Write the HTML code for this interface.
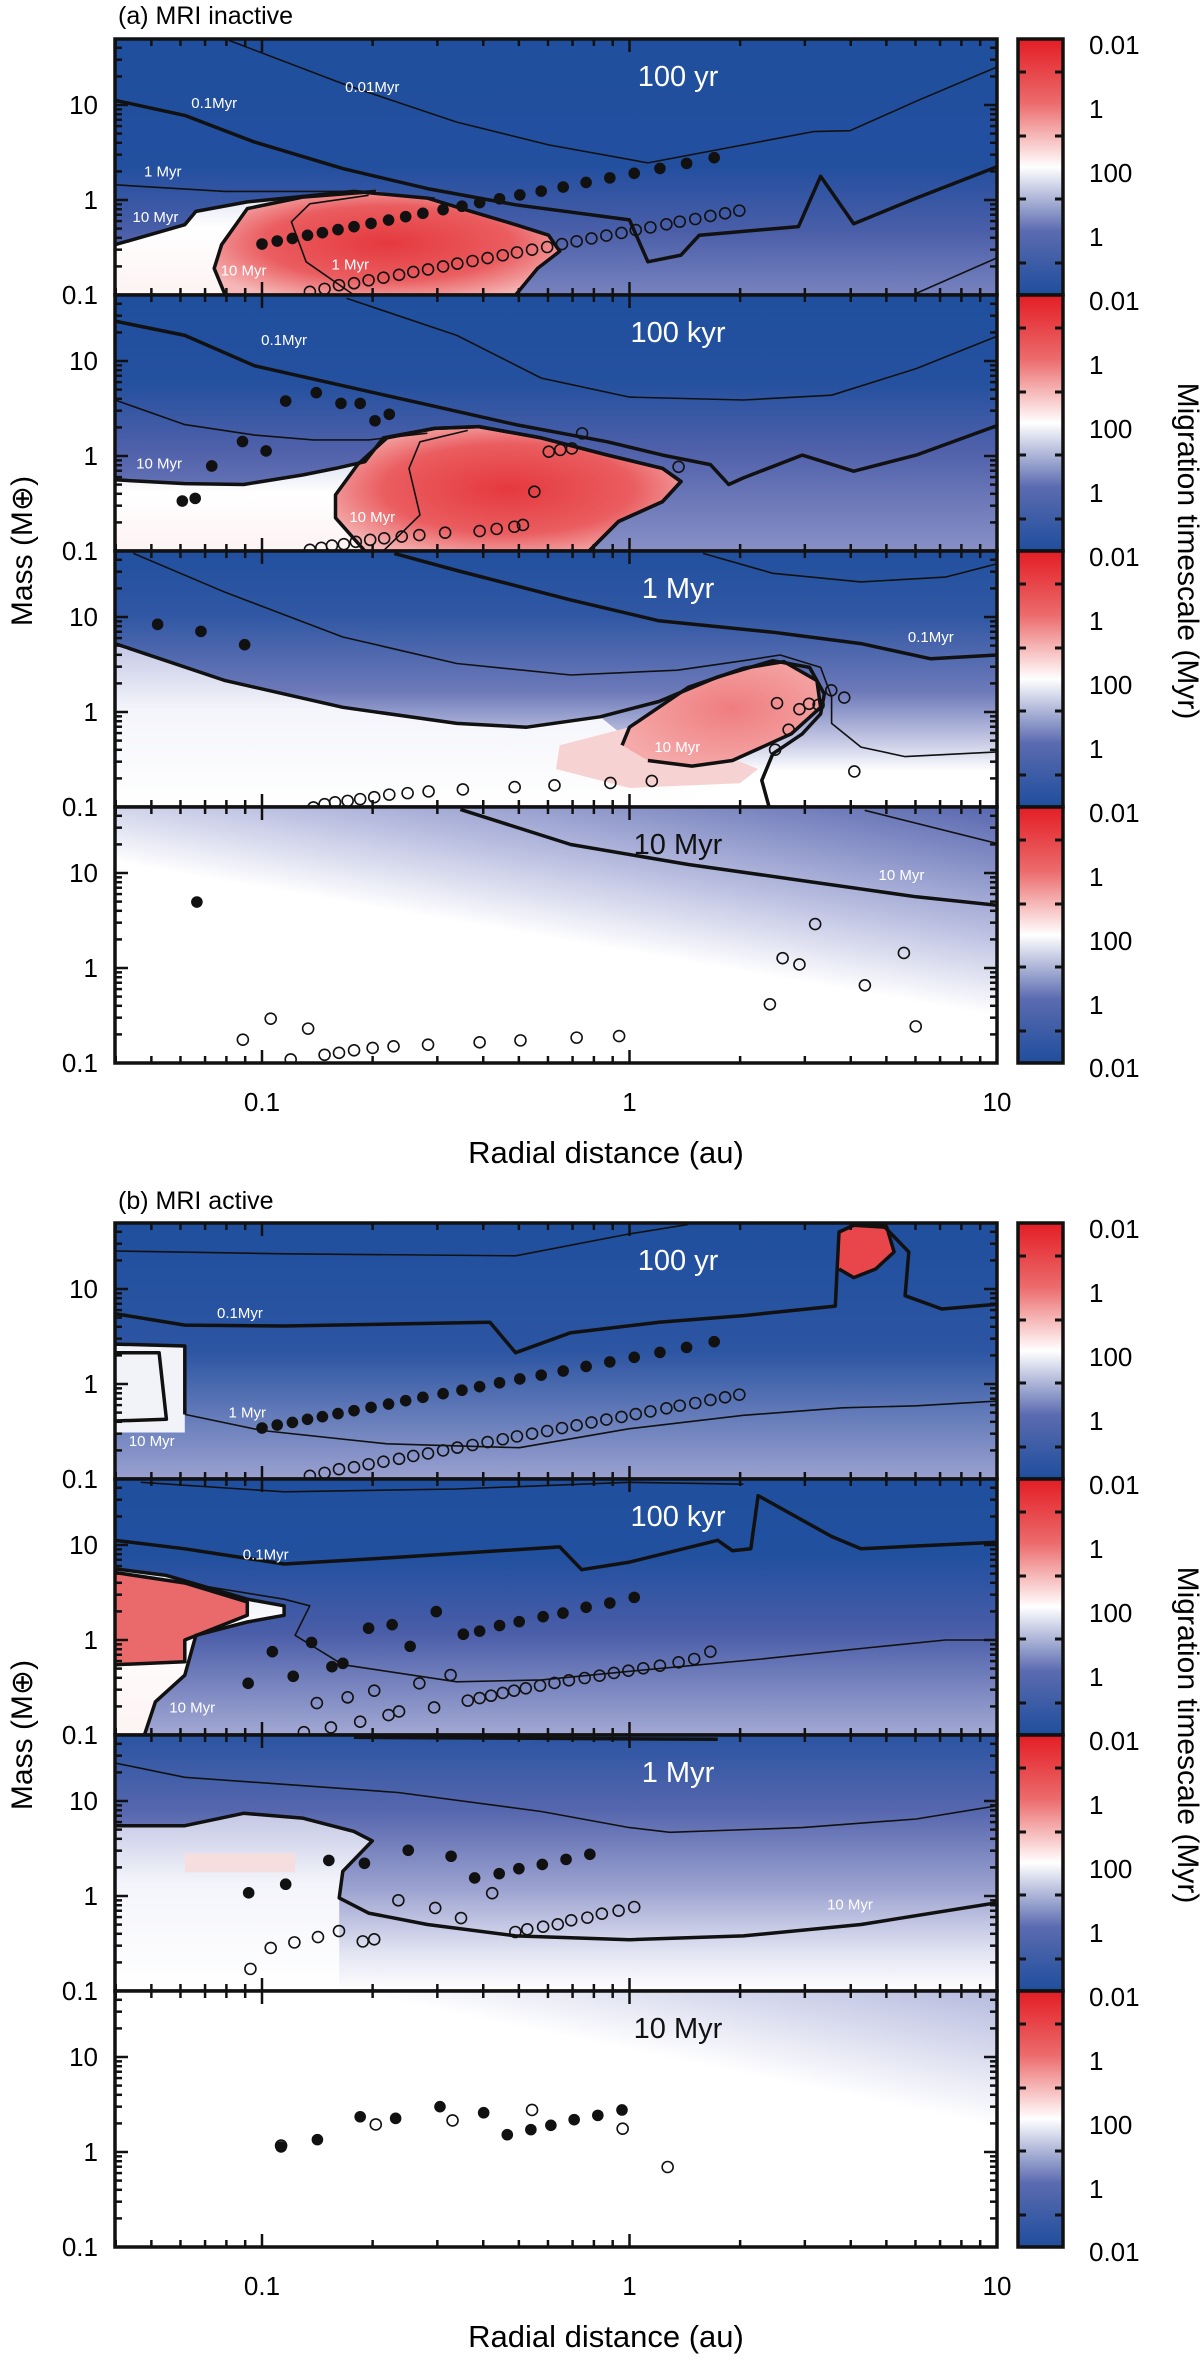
<!DOCTYPE html>
<html><head><meta charset="utf-8">
<style>
html,body{margin:0;padding:0;background:#fff;}
svg{display:block;font-family:"Liberation Sans","DejaVu Sans",sans-serif;}
</style></head>
<body>
<svg id="chart" width="1200" height="2363" viewBox="0 0 1200 2363" xmlns="http://www.w3.org/2000/svg">
<defs>
<linearGradient id="gA1" x1="0" y1="0" x2="0" y2="1"><stop offset="0" stop-color="#1f4f9e"/><stop offset="0.5" stop-color="#234f9f"/><stop offset="0.75" stop-color="#4a5ea8"/><stop offset="1" stop-color="#7883bf"/></linearGradient>
<linearGradient id="gA2" x1="0" y1="0" x2="0" y2="1"><stop offset="0" stop-color="#1f4f9e"/><stop offset="0.35" stop-color="#25519f"/><stop offset="0.6" stop-color="#4f60aa"/><stop offset="1" stop-color="#8890c6"/></linearGradient>
<linearGradient id="gA3" x1="0" y1="0" x2="0" y2="1"><stop offset="0" stop-color="#21509f"/><stop offset="0.25" stop-color="#3057a3"/><stop offset="0.55" stop-color="#6d79b9"/><stop offset="0.75" stop-color="#c9cce6"/><stop offset="0.86" stop-color="#ffffff"/><stop offset="1" stop-color="#ffffff"/></linearGradient>
<linearGradient id="gA4" x1="1" y1="0" x2="0.55" y2="0.75"><stop offset="0" stop-color="#5867af"/><stop offset="0.45" stop-color="#b3b8dd"/><stop offset="0.8" stop-color="#ffffff"/><stop offset="1" stop-color="#ffffff"/></linearGradient>
<linearGradient id="gB1" x1="0" y1="0" x2="0" y2="1"><stop offset="0" stop-color="#1f4f9e"/><stop offset="0.5" stop-color="#2c55a2"/><stop offset="1" stop-color="#9ba1d0"/></linearGradient>
<linearGradient id="gB2" x1="0" y1="0" x2="0" y2="1"><stop offset="0" stop-color="#1f4f9e"/><stop offset="0.3" stop-color="#21509f"/><stop offset="0.6" stop-color="#4a5da8"/><stop offset="1" stop-color="#a3a9d4"/></linearGradient>
<linearGradient id="gB3" x1="0" y1="0" x2="0" y2="1"><stop offset="0" stop-color="#2a54a2"/><stop offset="0.3" stop-color="#5767ae"/><stop offset="0.6" stop-color="#9ca2d0"/><stop offset="0.85" stop-color="#e2e4f2"/><stop offset="1" stop-color="#ffffff"/></linearGradient>
<linearGradient id="gB4" x1="1" y1="0" x2="0.75" y2="0.35"><stop offset="0" stop-color="#b5bade"/><stop offset="1" stop-color="#ffffff"/></linearGradient>
<linearGradient id="gFadeWhite" x1="0" y1="0" x2="0" y2="1"><stop offset="0" stop-color="#c3c7e4"/><stop offset="0.4" stop-color="#f4f5fb"/><stop offset="1" stop-color="#ffffff"/></linearGradient>
<linearGradient id="gWhiteReg" x1="0" y1="0" x2="0" y2="1"><stop offset="0" stop-color="#dfe2f1"/><stop offset="0.35" stop-color="#ffffff"/><stop offset="1" stop-color="#fdf3f3"/></linearGradient>
<radialGradient id="gRed" cx="0.5" cy="0.5" r="0.6"><stop offset="0" stop-color="#e5393e"/><stop offset="0.6" stop-color="#ea5d60"/><stop offset="1" stop-color="#f5b7b7"/></radialGradient>
<radialGradient id="gRedLight" cx="0.55" cy="0.45" r="0.6"><stop offset="0" stop-color="#ef7d7f"/><stop offset="1" stop-color="#f5a9a9"/></radialGradient>
<linearGradient id="gCbar" x1="0" y1="0" x2="0" y2="1"><stop offset="0" stop-color="#e31d25"/><stop offset="0.25" stop-color="#ec6b6c"/><stop offset="0.5" stop-color="#ffffff"/><stop offset="0.75" stop-color="#5b6bb0"/><stop offset="1" stop-color="#1f4e9c"/></linearGradient>
</defs>
<text x="118" y="24" font-size="25">(a) MRI inactive</text>
<text x="118" y="1209" font-size="25">(b) MRI active</text>
<text x="606" y="1163" font-size="31" text-anchor="middle">Radial distance (au)</text>
<text x="606" y="2347" font-size="31" text-anchor="middle">Radial distance (au)</text>
<text transform="translate(32,551) rotate(-90)" font-size="30" text-anchor="middle">Mass (M⊕)</text>
<text transform="translate(32,1735) rotate(-90)" font-size="30" text-anchor="middle">Mass (M⊕)</text>
<text transform="translate(1178,551) rotate(90)" font-size="30" text-anchor="middle">Migration timescale (Myr)</text>
<text transform="translate(1178,1735) rotate(90)" font-size="30" text-anchor="middle">Migration timescale (Myr)</text>
</svg>
<script>
// ---------- tick data ----------
const xTickValues=[0.1,1,10];
const xTickLabels=['0.1','1','10'];
const yTickValues=[0.1,1,10];
const yTickLabels=['0.1','1','10'];
const colorbarLabels=['0.01','1','100','1'];

// ---------- planet data (r in au, mass in Earth masses) ----------
const a1FilledR=[0.100,0.110,0.121,0.133,0.146,0.161,0.178,0.198,0.221,0.246,0.274,0.311,0.350,0.391,0.443,0.503,0.575,0.660,0.762,0.884,1.03,1.21,1.43,1.70];
const a1FilledM=[0.344,0.370,0.394,0.425,0.453,0.488,0.524,0.567,0.615,0.668,0.724,0.791,0.86,0.938,1.03,1.13,1.24,1.37,1.53,1.71,1.91,2.15,2.43,2.79];
const a1OpenR=[0.135,0.148,0.162,0.178,0.195,0.214,0.236,0.258,0.283,0.311,0.340,0.374,0.411,0.452,0.494,0.543,0.597,0.655,0.718,0.788,0.865,0.951,1.04,1.14,1.26,1.37,1.51,1.66,1.82,1.99];
const a1OpenM=[0.108,0.116,0.127,0.133,0.143,0.152,0.163,0.175,0.186,0.200,0.214,0.228,0.245,0.262,0.281,0.300,0.320,0.344,0.367,0.394,0.422,0.450,0.483,0.515,0.555,0.592,0.631,0.679,0.724,0.773];

const a2FilledR=[0.0607,0.0658,0.073,0.0885,0.1026,0.116,0.1405,0.164,0.185,0.203,0.222];
const a2FilledM=[0.336,0.358,0.785,1.42,1.13,3.79,4.64,3.58,3.58,2.35,2.75];
const a2OpenR=[0.135,0.145,0.155,0.167,0.180,0.197,0.215,0.240,0.268,0.315,0.391,0.435,0.486,0.513,0.551,0.603,0.648,0.697,0.743,1.36];
const a2OpenM=[0.103,0.108,0.114,0.118,0.125,0.131,0.136,0.142,0.147,0.156,0.162,0.171,0.180,0.188,0.421,1.11,1.16,1.20,1.73,0.77];

const a3FilledR=[0.052,0.0682,0.0897];
const a3FilledM=[8.37,7.06,5.11];
const a3OpenR=[0.138,0.148,0.158,0.171,0.185,0.202,0.222,0.249,0.284,0.352,0.487,0.625,0.887,1.15,2.49,2.71,2.90,3.08,3.27,3.54,3.84,4.09,2.52];
const a3OpenM=[0.099,0.107,0.112,0.116,0.121,0.127,0.135,0.140,0.146,0.153,0.162,0.169,0.179,0.188,0.401,0.652,1.07,1.22,1.19,1.69,1.42,0.237,1.24];

const a4FilledR=[0.0665];
const a4FilledM=[4.95];
const a4OpenR=[0.0887,0.1056,0.1197,0.1335,0.148,0.162,0.178,0.200,0.228,0.283,0.391,0.505,0.718,0.937,2.41,2.61,2.90,3.20,4.37,5.58,6.01];
const a4OpenM=[0.176,0.293,0.109,0.230,0.122,0.128,0.136,0.144,0.150,0.156,0.165,0.173,0.185,0.192,0.415,1.27,1.09,2.90,0.658,1.44,0.243];

const b1FilledR=[0.100,0.110,0.121,0.133,0.146,0.161,0.178,0.198,0.221,0.246,0.274,0.311,0.350,0.391,0.443,0.503,0.575,0.660,0.762,0.884,1.03,1.21,1.43,1.70];
const b1FilledM=[0.344,0.370,0.394,0.425,0.453,0.488,0.524,0.567,0.615,0.668,0.724,0.791,0.86,0.938,1.03,1.13,1.24,1.37,1.53,1.71,1.91,2.15,2.43,2.79];
const b1OpenR=[0.135,0.148,0.162,0.178,0.195,0.214,0.236,0.258,0.283,0.311,0.340,0.374,0.411,0.452,0.494,0.543,0.597,0.655,0.718,0.788,0.865,0.951,1.04,1.14,1.26,1.37,1.51,1.66,1.82,1.99];
const b1OpenM=[0.108,0.116,0.127,0.133,0.143,0.152,0.163,0.175,0.186,0.200,0.214,0.228,0.245,0.262,0.281,0.300,0.320,0.344,0.367,0.394,0.422,0.450,0.483,0.515,0.555,0.592,0.631,0.679,0.724,0.773];

const b2FilledR=[0.0917,0.1067,0.1216,0.1364,0.155,0.166,0.195,0.226,0.253,0.298,0.353,0.391,0.443,0.501,0.582,0.659,0.762,0.884,1.03];
const b2FilledM=[0.350,0.754,0.415,0.944,0.524,0.568,1.33,1.45,0.857,1.99,1.15,1.24,1.42,1.56,1.76,1.92,2.21,2.45,2.81];
const b2OpenR=[0.130,0.154,0.185,0.221,0.236,0.141,0.171,0.202,0.268,0.294,0.326,0.363,0.391,0.420,0.452,0.485,0.522,0.571,0.625,0.684,0.755,0.829,0.907,0.993,1.09,1.21,1.36,1.50,1.66];
const b2OpenM=[0.107,0.120,0.138,0.162,0.177,0.217,0.249,0.293,0.350,0.195,0.428,0.230,0.245,0.259,0.277,0.293,0.310,0.331,0.353,0.376,0.398,0.421,0.450,0.475,0.504,0.537,0.582,0.631,0.754];

const b3FilledR=[0.092,0.116,0.152,0.190,0.250,0.327,0.379,0.442,0.500,0.579,0.672,0.780];
const b3FilledM=[1.08,1.33,2.37,2.21,3.03,2.62,1.55,1.72,1.94,2.15,2.43,2.75];
const b3OpenR=[0.093,0.1056,0.1225,0.142,0.162,0.188,0.202,0.235,0.296,0.348,0.423,0.489,0.527,0.582,0.638,0.694,0.768,0.841,0.934,1.03];
const b3OpenM=[0.171,0.284,0.325,0.370,0.428,0.333,0.350,0.900,0.748,0.586,1.07,0.418,0.446,0.475,0.504,0.555,0.592,0.652,0.701,0.766];

const b4FilledR=[0.1127,0.1415,0.185,0.231,0.305,0.401,0.465,0.539,0.611,0.707,0.820,0.954];
const b4FilledM=[1.13,1.35,2.35,2.26,3.00,2.59,1.52,1.72,1.91,2.19,2.43,2.77];
const b4OpenR=[0.1127,0.204,0.330,0.543,0.958,1.27];
const b4OpenM=[1.17,1.95,2.15,2.77,1.76,0.695];

// ---------- contour data ([log10 r, log10 M]) ----------
const a1C001=[[-1.09,1.68],[-0.77,1.21],[-0.47,0.82],[-0.22,0.58],[0.05,0.39],[0.31,0.58],[0.50,0.72],[0.60,0.73],[0.78,1.04],[1.0,1.40]];
const a1C01=[[-1.40,1.05],[-1.21,0.89],[-1.02,0.61],[-0.78,0.33],[-0.55,0.12],[-0.31,-0.05],[0,-0.21],[0.05,-0.65],[0.14,-0.58],[0.19,-0.37],[0.46,-0.28],[0.52,0.25],[0.61,-0.25],[0.78,0.02],[1.0,0.35]];
const a1C1=[[-1.40,0.16],[-1.10,0.09],[-0.78,0.09],[-0.53,0.02]];
const a1C10=[[-1.40,-0.47],[-1.21,-0.26],[-1.18,-0.12],[-1.04,-0.02],[-0.75,0.09],[-0.55,0.02],[-0.44,-0.11],[-0.31,-0.26],[-0.22,-0.37],[-0.19,-0.54],[-0.25,-0.72],[-0.31,-1.0]];
const a1Blob=[[-1.10,-1.0],[-1.13,-0.72],[-1.11,-0.47],[-1.04,-0.09],[-0.89,0.03],[-0.69,0.09]];
const a1Inner=[[-0.75,-1.0],[-0.88,-0.65],[-0.92,-0.23],[-0.87,-0.04],[-0.71,0.05]];
const a1CR=[[0.77,-1.0],[1.0,-0.61]];
const a1White=[[-1.40,-0.47],[-1.21,-0.26],[-1.18,-0.12],[-1.04,-0.02],[-0.75,0.09],[-0.75,-1.0],[-1.40,-1.0]];
const a1Red=[[-1.10,-1.0],[-1.13,-0.72],[-1.11,-0.47],[-1.04,-0.09],[-0.89,0.03],[-0.69,0.09],[-0.55,0.02],[-0.44,-0.11],[-0.31,-0.26],[-0.22,-0.37],[-0.19,-0.54],[-0.25,-0.72],[-0.31,-1.0]];

const a2C001=[[-0.77,1.66],[-0.47,1.27],[-0.24,0.82],[0,0.62],[0.31,0.59],[0.55,0.64],[0.78,0.92],[1.0,1.26]];
const a2C01=[[-1.40,1.42],[-1.21,1.27],[-1.02,0.95],[-0.78,0.74],[-0.55,0.54],[-0.31,0.33],[-0.06,0.15],[0.09,0.01],[0.22,-0.09],[0.27,-0.30],[0.31,-0.23],[0.47,0.01],[0.61,-0.16],[0.78,0.01],[1.0,0.32]];
const a2C1=[[-1.40,0.59],[-1.21,0.33],[-1.02,0.22],[-0.86,0.17],[-0.71,0.17],[-0.55,0.24]];
const a2C10=[[-1.40,-0.25],[-1.21,-0.29],[-1.05,-0.30],[-0.89,-0.20],[-0.80,-0.13],[-0.72,-0.06],[-0.67,0.19],[-0.53,0.29],[-0.41,0.31],[-0.24,0.19],[-0.06,0.01],[0.09,-0.13],[0.14,-0.27],[0.09,-0.48],[-0.03,-0.69],[-0.11,-1.0]];
const a2Inner=[[-0.67,-1.0],[-0.57,-0.62],[-0.60,-0.13],[-0.57,0.15],[-0.44,0.27]];
const a2White=[[-1.40,-0.25],[-1.21,-0.29],[-1.05,-0.30],[-0.89,-0.20],[-0.80,-0.13],[-0.72,-0.06],[-0.72,-1.0],[-1.40,-1.0]];
const a2Red=[[-0.72,-1.0],[-0.80,-0.65],[-0.80,-0.41],[-0.74,-0.09],[-0.66,0.19],[-0.53,0.29],[-0.41,0.31],[-0.24,0.19],[-0.06,0.01],[0.09,-0.13],[0.14,-0.27],[0.09,-0.48],[-0.03,-0.69],[-0.11,-1.0]];

const a3C001=[[0.20,1.67],[0.39,1.46],[0.63,1.37],[0.86,1.42],[1.0,1.56]];
const a3C01=[[-0.64,1.67],[-0.47,1.49],[-0.16,1.18],[0.08,0.96],[0.39,0.84],[0.63,0.72],[0.82,0.56],[1.0,0.60]];
const a3C1=[[-1.35,1.67],[-1.10,1.26],[-0.78,0.79],[-0.47,0.51],[-0.16,0.39],[0.13,0.44],[0.31,0.54],[0.41,0.60],[0.52,0.47],[0.55,0.16],[0.55,-0.12],[0.63,-0.37],[0.75,-0.47],[1.0,-0.42]];
const a3C10=[[-1.40,0.72],[-1.10,0.33],[-0.78,0.05],[-0.47,-0.12],[-0.28,-0.16],[-0.08,-0.05],[0.08,0.11],[0.24,0.37],[0.39,0.54],[0.49,0.47],[0.53,0.19],[0.52,-0.02],[0.47,-0.23],[0.39,-0.44],[0.36,-0.72],[0.38,-1.0]];
const a3White=[[-1.40,0.72],[-1.10,0.33],[-0.78,0.05],[-0.47,-0.12],[-0.28,-0.16],[-0.08,-0.05],[0.0,-0.3],[0.2,-1.0],[-1.40,-1.0]];
const a3Red=[[-0.02,-0.35],[0,-0.16],[0.16,0.26],[0.31,0.46],[0.42,0.53],[0.51,0.33],[0.52,0.05],[0.44,-0.23],[0.28,-0.51],[0.17,-0.57],[0.05,-0.51]];
const a3Pink=[[-0.19,-0.35],[0.0,-0.16],[0.16,-0.3],[0.35,-0.6],[0.3,-0.75],[0.0,-0.8],[-0.2,-0.6]];

const a4C10=[[-0.46,1.67],[-0.16,1.30],[0.16,1.09],[0.47,0.92],[0.78,0.75],[1.0,0.66]];
const a4CThin=[[0.64,1.66],[1.0,1.31]];

const b1CTop=[[-1.40,1.40],[-0.94,1.37],[-0.31,1.35],[0,1.58],[0.16,1.68]];
const b1C01=[[-1.40,0.74],[-1.21,0.62],[-0.94,0.61],[-0.38,0.65],[-0.31,0.33],[-0.16,0.54],[0.08,0.65],[0.31,0.72],[0.56,0.82],[0.57,1.60],[0.61,1.67],[0.69,1.67],[0.76,1.39],[0.75,0.93],[0.85,0.79],[1.0,0.84]];
const b1C1=[[-1.21,-0.32],[-1.0,-0.49],[-0.66,-0.63],[-0.30,-0.67],[0,-0.47],[0.31,-0.33],[0.58,-0.25],[0.78,-0.23],[1.0,-0.18]];
const b1Box1=[[-1.40,0.42],[-1.21,0.40],[-1.21,-0.32]];
const b1Box2=[[-1.40,0.33],[-1.28,0.33],[-1.26,-0.37],[-1.40,-0.39]];
const b1White=[[-1.40,0.40],[-1.21,0.40],[-1.21,-0.51],[-1.40,-0.51]];
const b1Red=[[0.57,1.60],[0.61,1.67],[0.70,1.65],[0.72,1.39],[0.67,1.21],[0.61,1.12],[0.57,1.21]];

const b2CTop=[[-1.33,1.66],[-0.94,1.56],[-0.47,1.59],[0,1.66],[0.31,1.64]];
const b2C01=[[-1.40,1.05],[-1.21,0.96],[-0.94,0.80],[-0.63,0.87],[-0.19,0.98],[-0.13,0.74],[0,0.82],[0.24,1.05],[0.28,0.94],[0.33,0.96],[0.35,1.52],[0.55,1.09],[0.63,0.96],[0.78,0.99],[1.0,1.03]];
const b2C1=[[-1.21,0.60],[-0.94,0.43],[-0.87,0.36],[-0.91,0.05],[-0.78,-0.26],[-0.47,-0.44],[-0.24,-0.42],[0,-0.33],[0.36,-0.20],[0.63,-0.09],[0.86,0.0],[1.0,0.0]];
const b2C10=[[-1.40,0.75],[-1.26,0.68],[-1.04,0.43],[-0.94,0.36],[-0.94,0.26],[-1.04,0.19],[-1.18,0.05],[-1.21,-0.37],[-1.29,-0.65],[-1.32,-1.0]];
const b2White=[[-1.40,0.75],[-1.26,0.68],[-1.04,0.43],[-0.94,0.36],[-0.94,0.26],[-1.04,0.19],[-1.18,0.05],[-1.21,-0.37],[-1.29,-0.65],[-1.32,-1.0],[-1.40,-1.0]];
const b2Red=[[-1.40,0.71],[-1.21,0.60],[-1.04,0.40],[-1.04,0.26],[-1.21,0.0],[-1.21,-0.23],[-1.40,-0.26]];

const b3CThin=[[-1.40,1.40],[-1.21,1.25],[-0.63,1.09],[-0.24,0.89],[0,0.72],[0.11,0.67],[0.47,0.72],[0.78,0.81],[1.0,0.95]];
const b3C10=[[-1.40,0.74],[-1.21,0.74],[-1.05,0.87],[-0.89,0.82],[-0.75,0.68],[-0.70,0.58],[-0.78,0.26],[-0.79,-0.02],[-0.71,-0.18],[-0.55,-0.30],[-0.31,-0.42],[0,-0.46],[0.31,-0.42],[0.63,-0.30],[1.0,-0.07]];
const b3CTopEdge=[[-0.75,1.67],[0.24,1.65]];
const b3White=[[-1.40,0.74],[-1.21,0.74],[-1.05,0.87],[-0.89,0.82],[-0.75,0.68],[-0.70,0.58],[-0.78,0.26],[-0.79,-0.02],[-0.79,-1.0],[-1.40,-1.0]];
const b3Pink=[[-1.21,0.45],[-0.91,0.45],[-0.91,0.25],[-1.21,0.25]];

// ---------- panel configuration ----------
const panels=[
 {id:'a1',top:39,title:'100 yr',titleColor:'#fff',bg:'gA1',fr:a1FilledR,fm:a1FilledM,or:a1OpenR,om:a1OpenM,
  regions:[[a1White,'url(#gWhiteReg)'],[a1Red,'url(#gRed)']],
  lines:[[a1C001,1.6],[a1C01,3.5],[a1C1,1.6],[a1C10,3.5],[a1Blob,3.5],[a1Inner,1.6],[a1CR,1.6]],
  labels:[['0.01Myr',-0.70,1.19],['0.1Myr',-1.13,1.02],['1 Myr',-1.27,0.30],['10 Myr',-1.29,-0.18],['10 Myr',-1.05,-0.74],['1 Myr',-0.76,-0.68]]},
 {id:'a2',top:295,title:'100 kyr',titleColor:'#fff',bg:'gA2',fr:a2FilledR,fm:a2FilledM,or:a2OpenR,om:a2OpenM,
  regions:[[a2White,'url(#gWhiteReg)'],[a2Red,'url(#gRed)']],
  lines:[[a2C001,1.6],[a2C01,3.5],[a2C1,1.6],[a2C10,3.5],[a2Red,3.5],[a2Inner,1.6]],
  labels:[['0.1Myr',-0.94,1.22],['10 Myr',-1.28,-0.08],['10 Myr',-0.70,-0.64]]},
 {id:'a3',top:551,title:'1 Myr',titleColor:'#fff',bg:'gA3',fr:a3FilledR,fm:a3FilledM,or:a3OpenR,om:a3OpenM,
  regions:[[a3White,'url(#gFadeWhite)'],[a3Pink,'#f7d2d2'],[a3Red,'url(#gRedLight)']],
  lines:[[a3C001,1.6],[a3C01,3.5],[a3C1,1.6],[a3C10,3.5],[a3Red,3.5]],
  labels:[['0.1Myr',0.82,0.79],['10 Myr',0.13,-0.37],['10 Myr',0.48,-0.75]]},
 {id:'a4',top:807,title:'10 Myr',titleColor:'#111',bg:'gA4',fr:a4FilledR,fm:a4FilledM,or:a4OpenR,om:a4OpenM,
  regions:[],
  lines:[[a4C10,3.5],[a4CThin,1.6]],
  labels:[['10 Myr',0.74,0.98]]},
 {id:'b1',top:1223,title:'100 yr',titleColor:'#fff',bg:'gB1',fr:b1FilledR,fm:b1FilledM,or:b1OpenR,om:b1OpenM,
  regions:[[b1White,'#f2f3f9'],[b1Red,'#e8464a']],
  lines:[[b1CTop,1.6],[b1C01,3.5],[b1C1,1.6],[b1Box1,3.5],[b1Box2,3.5],[b1Red,3.5]],
  labels:[['0.1Myr',-1.06,0.75],['1 Myr',-1.04,-0.30],['10 Myr',-1.30,-0.60]]},
 {id:'b2',top:1479,title:'100 kyr',titleColor:'#fff',bg:'gB2',fr:b2FilledR,fm:b2FilledM,or:b2OpenR,om:b2OpenM,
  regions:[[b2White,'url(#gWhiteReg)'],[b2Red,'#ea6a6c']],
  lines:[[b2CTop,1.6],[b2C01,3.5],[b2C1,1.6],[b2C10,3.5],[b2Red,3.5]],
  labels:[['0.1Myr',-0.99,0.90],['10 Myr',-1.19,-0.71]]},
 {id:'b3',top:1735,title:'1 Myr',titleColor:'#fff',bg:'gB3',fr:b3FilledR,fm:b3FilledM,or:b3OpenR,om:b3OpenM,
  regions:[[b3White,'url(#gFadeWhite)'],[b3Pink,'#f6dede']],
  lines:[[b3CThin,1.6],[b3C10,3.5],[b3CTopEdge,3.5]],
  labels:[['10 Myr',0.60,-0.09]]},
 {id:'b4',top:1991,title:'10 Myr',titleColor:'#111',bg:'gB4',fr:b4FilledR,fm:b4FilledM,or:b4OpenR,om:b4OpenM,
  regions:[],lines:[],labels:[]}
];

// ---------- axes ----------
const NS='http://www.w3.org/2000/svg';
const svg=document.getElementById('chart');
const PH=256, DEC=95, XL0=115, XR=997;
function xScale(r){return 629.5+367.5*Math.log10(r);}
function xLog(lr){return 629.5+367.5*lr;}
function yScale(m,B){return B-(Math.log10(m)+1)*DEC;}
function yLog(lm,B){return B-(lm+1)*DEC;}
function mk(tag,attrs,parent){const e=document.createElementNS(NS,tag);for(const k in attrs)e.setAttribute(k,attrs[k]);(parent||svg).appendChild(e);return e;}
function ptsLog(arr,B){return arr.map(p=>xLog(p[0]).toFixed(1)+','+yLog(p[1],B).toFixed(1)).join(' ');}

const xMinor=[];for(let d=-2;d<=0;d++)for(let k=2;k<=9;k++)xMinor.push(k*Math.pow(10,d));
const yMinor=[];for(let d=-1;d<=1;d++)for(let k=2;k<=9;k++)yMinor.push(k*Math.pow(10,d));

panels.forEach((p,pi)=>{
  const T=p.top,B=T+PH;
  const g=mk('g',{});
  
  
  const clip=mk('clipPath',{id:'clip-'+p.id},g);
  mk('rect',{x:XL0,y:T,width:XR-XL0,height:PH},clip);
  const inner=mk('g',{'clip-path':'url(#clip-'+p.id+')'},g);
  const bg=mk('rect',{x:XL0,y:T,width:XR-XL0,height:PH,fill:'url(#'+p.bg+')'},inner);
  
  
  p.regions.forEach(rg=>{
    const poly=mk('polygon',{points:ptsLog(rg[0],B),fill:rg[1]},inner);
    
    
  });
  p.lines.forEach(ln=>{
    const pl=mk('polyline',{points:ptsLog(ln[0],B),fill:'none',stroke:'#111','stroke-width':ln[1],'stroke-linejoin':'round'},inner);
    
    
  });
  p.labels.forEach(lb=>{
    const t=mk('text',{x:xLog(lb[1]),y:yLog(lb[2],B)+5,'font-size':15,fill:'#fff','text-anchor':'middle'},inner);
    t.textContent=lb[0];
    
    
  });
  p.fr.forEach((r,i)=>{
    const c=mk('circle',{cx:xScale(r),cy:yScale(p.fm[i],B),r:5.8,fill:'#111'},inner);
    
    
  });
  p.or.forEach((r,i)=>{
    const c=mk('circle',{cx:xScale(r),cy:yScale(p.om[i],B),r:5.5,fill:'none',stroke:'#111','stroke-width':1.6},inner);
    
    
  });
  const tt=mk('text',{x:678,y:T+47,'font-size':29,fill:p.titleColor,'text-anchor':'middle'},g);
  tt.textContent=p.title;
  
  
  const tk=mk('g',{stroke:'#111','stroke-width':2.5},g);
  
  
  xMinor.forEach(v=>{const x=xScale(v);if(x<XL0||x>XR)return;mk('line',{x1:x,y1:T,x2:x,y2:T+7},tk);mk('line',{x1:x,y1:B,x2:x,y2:B-7},tk);});
  xTickValues.forEach(v=>{const x=xScale(v);mk('line',{x1:x,y1:T,x2:x,y2:T+13},tk);mk('line',{x1:x,y1:B,x2:x,y2:B-13},tk);});
  yMinor.forEach(v=>{const y=yScale(v,B);if(y<T||y>B)return;mk('line',{x1:XL0,y1:y,x2:XL0+7,y2:y},tk);mk('line',{x1:XR,y1:y,x2:XR-7,y2:y},tk);});
  yTickValues.forEach(v=>{const y=yScale(v,B);mk('line',{x1:XL0,y1:y,x2:XL0+13,y2:y},tk);mk('line',{x1:XR,y1:y,x2:XR-13,y2:y},tk);});
  const fr=mk('rect',{x:XL0,y:T,width:XR-XL0,height:PH,fill:'none',stroke:'#111','stroke-width':3.5},g);
  
  
  yTickValues.forEach((v,i)=>{
    if(v===0.1 && (pi%4)!==3) return;
    const t=mk('text',{x:98,y:yScale(v,B)+9,'font-size':26,'text-anchor':'end'},g);
    t.textContent=yTickLabels[i];
    
    
  });
  if(pi%4!==3){
    const t=mk('text',{x:98,y:B+9,'font-size':26,'text-anchor':'end'},g);
    t.textContent=yTickLabels[0];
    
    
  }
  const cb=mk('rect',{x:1018,y:T,width:45,height:PH,fill:'url(#gCbar)',stroke:'#111','stroke-width':3.5},g);
  
  
  [33,97,160,224].forEach(o=>{mk('line',{x1:1018,y1:T+o,x2:1026,y2:T+o,stroke:'#111','stroke-width':3},g);mk('line',{x1:1063,y1:T+o,x2:1055,y2:T+o,stroke:'#111','stroke-width':3},g);});
  colorbarLabels.forEach((lab,k)=>{
    const t=mk('text',{x:1089,y:T+6+k*64+9,'font-size':26},g);
    t.textContent=lab;
    
    
  });
  if(pi%4===3){
    const t=mk('text',{x:1089,y:B+5+9,'font-size':26},g);
    t.textContent='0.01';
    
    
    xTickValues.forEach((v,i)=>{
      const xt=mk('text',{x:xScale(v),y:B+48,'font-size':26,'text-anchor':'middle'},g);
      xt.textContent=xTickLabels[i];
      
      
    });
  }
});
</script>
</body></html>
